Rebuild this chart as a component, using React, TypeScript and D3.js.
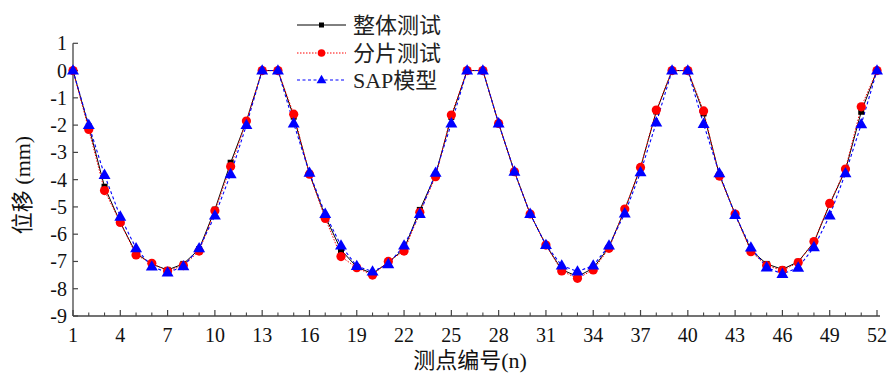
import React from "react";
import * as d3 from "d3";

// measuring point numbers 1..52
const points: number[] = Array.from({ length: 52 }, (_, i) => i + 1);

// displacement (mm) — whole-structure test
const wholeTest: number[] = [
  0, -2.05, -4.26, -5.57, -6.7, -7.1, -7.31, -7.09, -6.55, -5.1, -3.38, -1.85, 0,
  0, -1.69, -3.78, -5.35, -6.58, -7.2, -7.45, -7.03, -6.55, -5.11, -3.82, -1.7, 0,
  0, -1.94, -3.71, -5.26, -6.4, -7.3, -7.55, -7.25, -6.47, -5.1, -3.55, -1.5, 0,
  0, -1.57, -3.82, -5.26, -6.58, -7.09, -7.29, -7.01, -6.3, -4.9, -3.65, -1.51, 0,
];

// displacement (mm) — segmented test
const segmentTest: number[] = [
  0, -2.16, -4.4, -5.57, -6.76, -7.07, -7.35, -7.15, -6.62, -5.14, -3.52, -1.85, 0,
  0, -1.6, -3.8, -5.42, -6.82, -7.23, -7.5, -7.0, -6.62, -5.2, -3.89, -1.63, 0,
  0, -1.94, -3.71, -5.26, -6.4, -7.35, -7.62, -7.31, -6.52, -5.08, -3.55, -1.45, 0,
  0, -1.48, -3.87, -5.26, -6.64, -7.15, -7.33, -7.04, -6.27, -4.87, -3.61, -1.33, 0,
];

// displacement (mm) — SAP model
const sapModel: number[] = [
  0, -2.0, -3.83, -5.36, -6.52, -7.19, -7.41, -7.18, -6.52, -5.32, -3.8, -2.0, 0,
  0, -1.94, -3.75, -5.26, -6.42, -7.17, -7.37, -7.1, -6.42, -5.26, -3.75, -1.94, 0,
  0, -1.94, -3.71, -5.26, -6.4, -7.15, -7.37, -7.15, -6.42, -5.24, -3.73, -1.91, 0,
  0, -1.96, -3.77, -5.3, -6.49, -7.22, -7.46, -7.23, -6.48, -5.32, -3.77, -1.97, 0,
];

const xTicks: number[] = [1, 4, 7, 10, 13, 16, 19, 22, 25, 28, 31, 34, 37, 40, 43, 46, 49, 52];
const yTicks: number[] = [1, 0, -1, -2, -3, -4, -5, -6, -7, -8, -9];
const seriesNames: string[] = ["整体测试", "分片测试", "SAP模型"];

const W = 887;
const H = 373;
const left = 73;
const right = 877;
const top = 43.3;
const bottom = 316;

const FONT = "'Liberation Serif', 'Times New Roman', 'Noto Sans CJK SC', serif";
const AXIS = "#444";

export default function App() {
  const x = d3.scaleLinear().domain([1, 52]).range([left, right]);
  const y = d3.scaleLinear().domain([-9, 1]).range([bottom, top]);

  const line = (vals: number[]) =>
    d3
      .line<number>()
      .x((_, i) => x(points[i]))
      .y((v) => y(v))(vals) as string;

  const tri = d3.symbol().type(d3.symbolTriangle).size(62)() as string;

  const minor = d3.range(1, 53).filter((v) => !xTicks.includes(v));

  const legendX0 = 297;
  const legendX1 = 346;
  const legendY = [25, 53, 80];

  const square = (cx: number, cy: number, k: string | number) => (
    <rect key={k} x={cx - 3} y={cy - 3} width={6} height={6} fill="#000" />
  );
  const circle = (cx: number, cy: number, k: string | number) => (
    <circle key={k} cx={cx} cy={cy} r={4.6} fill="#ff0000" />
  );
  const triangle = (cx: number, cy: number, k: string | number) => (
    <path key={k} d={tri} transform={`translate(${cx},${cy + 0.5})`} fill="#0000ff" />
  );

  return (
    <svg
      width={W}
      height={H}
      style={{ position: "absolute", left: 0, top: 0, background: "#fff" }}
    >
      <rect width={W} height={H} fill="#fff" />

      {/* axes */}
      <line x1={left} y1={top} x2={left} y2={bottom} stroke={AXIS} strokeWidth={1.3} />
      <line x1={left} y1={bottom} x2={right + 3} y2={bottom} stroke={AXIS} strokeWidth={1.3} />

      {yTicks.map((t) => (
        <g key={`y${t}`}>
          <line x1={left} x2={left + 5} y1={y(t)} y2={y(t)} stroke={AXIS} strokeWidth={1.2} />
          <text
            x={left - 6}
            y={y(t) + 7}
            textAnchor="end"
            fontFamily={FONT}
            fontSize={20}
            fill="#111"
          >
            {t === 0 ? "0" : t < 0 ? `-${Math.abs(t)}` : `${t}`}
          </text>
        </g>
      ))}

      {xTicks.map((t) => (
        <g key={`x${t}`}>
          <line x1={x(t)} x2={x(t)} y1={bottom} y2={bottom - 6} stroke={AXIS} strokeWidth={1.2} />
          <text
            x={x(t)}
            y={bottom + 26}
            textAnchor="middle"
            fontFamily={FONT}
            fontSize={20}
            fill="#111"
          >
            {t}
          </text>
        </g>
      ))}
      {minor.map((t) => (
        <line
          key={`m${t}`}
          x1={x(t)}
          x2={x(t)}
          y1={bottom}
          y2={bottom - 3.5}
          stroke={AXIS}
          strokeWidth={1.1}
        />
      ))}

      {/* axis titles */}
      <text
        transform={`translate(30,185) rotate(-90)`}
        textAnchor="middle"
        fontFamily={FONT}
        fontSize={22}
        fill="#111"
      >
        位移 (mm)
      </text>
      <text
        x={470}
        y={368}
        textAnchor="middle"
        fontFamily={FONT}
        fontSize={22}
        fill="#111"
      >
        测点编号(n)
      </text>

      {/* series lines */}
      <path d={line(wholeTest)} fill="none" stroke="#000" strokeWidth={1} />
      <path
        d={line(segmentTest)}
        fill="none"
        stroke="#ff0000"
        strokeWidth={1}
        strokeDasharray="1.5,1.5"
      />
      <path
        d={line(sapModel)}
        fill="none"
        stroke="#0000ff"
        strokeWidth={1.1}
        strokeDasharray="3,2.5"
      />

      {/* series markers */}
      {wholeTest.map((v, i) => square(x(points[i]), y(v), `s${i}`))}
      {segmentTest.map((v, i) => circle(x(points[i]), y(v), `c${i}`))}
      {sapModel.map((v, i) => triangle(x(points[i]), y(v), `t${i}`))}

      {/* legend */}
      <line x1={legendX0} x2={legendX1} y1={legendY[0]} y2={legendY[0]} stroke="#000" strokeWidth={1} />
      <rect x={(legendX0 + legendX1) / 2 - 2.5} y={legendY[0] - 2.5} width={5} height={5} fill="#000" />
      <line
        x1={legendX0}
        x2={legendX1}
        y1={legendY[1]}
        y2={legendY[1]}
        stroke="#ff0000"
        strokeWidth={1}
        strokeDasharray="1.5,1.5"
      />
      <circle cx={(legendX0 + legendX1) / 2} cy={legendY[1]} r={3.8} fill="#ff0000" />
      <line
        x1={legendX0}
        x2={legendX1}
        y1={legendY[2]}
        y2={legendY[2]}
        stroke="#0000ff"
        strokeWidth={1.1}
        strokeDasharray="3,2.5"
      />
      <path
        d={d3.symbol().type(d3.symbolTriangle).size(42)() as string}
        transform={`translate(${(legendX0 + legendX1) / 2},${legendY[2] + 0.5})`}
        fill="#0000ff"
      />
      {seriesNames.map((n, i) => (
        <text
          key={n}
          x={353}
          y={legendY[i] + 8}
          fontFamily={FONT}
          fontSize={22}
          fill="#222"
        >
          {n}
        </text>
      ))}
    </svg>
  );
}
